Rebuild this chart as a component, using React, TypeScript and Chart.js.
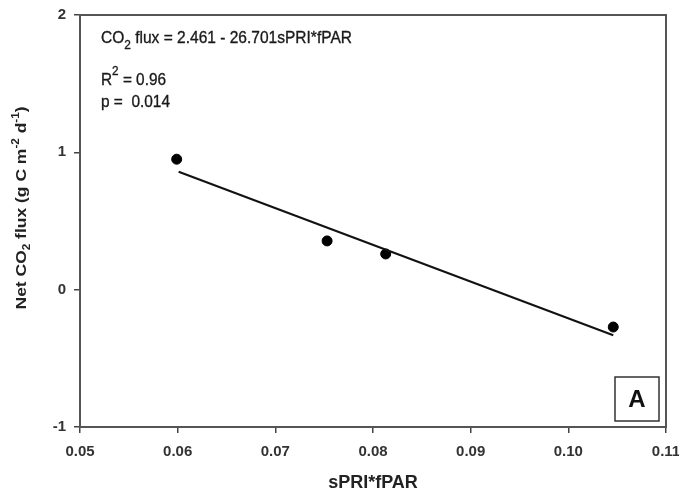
import React, { useEffect, useRef } from 'react';
import { Chart, registerables } from 'chart.js';

Chart.register(...registerables);

// ---- data ----
const sPriFpar = [0.0599, 0.0753, 0.0813, 0.1046];
const netFlux = [0.95, 0.355, 0.26, -0.272];
const fitX = [0.0601, 0.1046];
const fitY = [0.859, -0.332];
const xMin = 0.05, xMax = 0.11, xStep = 0.01;
const yMin = -1, yMax = 2, yStep = 1;
const xTitle = 'sPRI*fPAR';
const panelLabel = 'A';

type Seg = { t: string; size: number; dy: number };

const FAMILY = '"Liberation Sans", Arial, Helvetica, sans-serif';

const eqLine: Seg[] = [
  { t: 'CO', size: 17, dy: 0 },
  { t: '2', size: 13, dy: 6 },
  { t: ' flux = 2.461 - 26.701sPRI*fPAR', size: 17, dy: 0 },
];
const r2Line: Seg[] = [
  { t: 'R', size: 17, dy: 0 },
  { t: '2', size: 13, dy: -10 },
  { t: ' = 0.96', size: 17, dy: 0 },
];
const pLine: Seg[] = [{ t: 'p =  0.014', size: 17, dy: 0 }];
const yTitleSegs: Seg[] = [
  { t: 'Net CO', size: 15, dy: 0 },
  { t: '2', size: 10, dy: 4 },
  { t: ' flux (g C m', size: 15, dy: 0 },
  { t: '-2', size: 10, dy: -7 },
  { t: ' d', size: 15, dy: 0 },
  { t: '-1', size: 10, dy: -7 },
  { t: ')', size: 15, dy: 0 },
];

function drawRich(
  ctx: CanvasRenderingContext2D,
  segs: Seg[],
  x: number,
  y: number,
  weight: string,
  color: string,
  targetWidth?: number,
  center?: boolean
) {
  let total = 0;
  const widths: number[] = [];
  for (const s of segs) {
    ctx.font = `${weight} ${s.size}px ${FAMILY}`;
    const w = ctx.measureText(s.t).width;
    widths.push(w);
    total += w;
  }
  const sx = targetWidth ? targetWidth / total : 1;
  ctx.save();
  ctx.translate(x, y);
  ctx.scale(sx, 1);
  ctx.fillStyle = color;
  ctx.strokeStyle = color;
  ctx.lineWidth = 0.35;
  ctx.textBaseline = 'alphabetic';
  ctx.textAlign = 'left';
  let cx = center ? -total / 2 : 0;
  segs.forEach((s, i) => {
    ctx.font = `${weight} ${s.size}px ${FAMILY}`;
    ctx.fillText(s.t, cx, s.dy);
    if (weight === 'normal') ctx.strokeText(s.t, cx, s.dy);
    cx += widths[i];
  });
  ctx.restore();
}

const decorPlugin = {
  id: 'decor',
  afterDraw(chart: any) {
    const ctx: CanvasRenderingContext2D = chart.ctx;
    const a = chart.chartArea;
    ctx.save();
    // frame
    ctx.strokeStyle = '#555';
    ctx.lineWidth = 2;
    ctx.strokeRect(a.left, a.top, a.right - a.left, a.bottom - a.top);

    // annotation text
    drawRich(ctx, eqLine, a.left + 21, a.top + 28, 'normal', '#1a1a1a', 251);
    drawRich(ctx, r2Line, a.left + 21, a.top + 70, 'normal', '#1a1a1a', 65);
    drawRich(ctx, pLine, a.left + 21, a.top + 92, 'normal', '#1a1a1a', 69);

    // panel label box
    const bw = 44, bh = 44;
    const bx = a.right - 7 - bw;
    const by = a.bottom - 6 - bh;
    ctx.strokeStyle = '#333';
    ctx.lineWidth = 1.5;
    ctx.strokeRect(bx, by, bw, bh);
    ctx.fillStyle = '#111';
    ctx.font = `bold 24px ${FAMILY}`;
    ctx.textAlign = 'center';
    ctx.textBaseline = 'middle';
    ctx.fillText(panelLabel, bx + bw / 2, by + bh / 2 + 1);

    // y axis title (rotated, with sub/superscripts)
    ctx.save();
    ctx.translate(26, 208);
    ctx.rotate(-Math.PI / 2);
    drawRich(ctx, yTitleSegs, 0, 0, 'bold', '#222', 203, true);
    ctx.restore();

    ctx.restore();
  },
};

export default function App() {
  const ref = useRef<HTMLCanvasElement | null>(null);

  useEffect(() => {
    document.body.style.margin = '0';
    if (!ref.current) return;
    const tickFont = { family: FAMILY, size: 15, weight: 'bold' as const };
    const chart = new Chart(ref.current, {
      type: 'scatter',
      data: {
        datasets: [
          {
            type: 'line',
            data: fitX.map((x, i) => ({ x, y: fitY[i] })),
            borderColor: '#111',
            borderWidth: 2,
            pointRadius: 0,
            fill: false,
          } as any,
          {
            type: 'scatter',
            data: sPriFpar.map((x, i) => ({ x, y: netFlux[i] })),
            backgroundColor: '#000',
            borderColor: '#000',
            pointRadius: 5,
          },
        ],
      },
      options: {
        animation: false,
        responsive: true,
        maintainAspectRatio: false,
        layout: { padding: { top: 15, right: 13, left: 0, bottom: 0 } },
        plugins: { legend: { display: false }, tooltip: { enabled: false } },
        scales: {
          x: {
            type: 'linear',
            min: xMin,
            max: xMax,
            ticks: {
              stepSize: xStep,
              callback: (v: any) => Number(v).toFixed(2),
              font: tickFont,
              color: '#333',
              padding: 10,
              maxRotation: 0,
              autoSkip: false,
            },
            grid: {
              drawOnChartArea: false,
              drawTicks: true,
              tickLength: 6,
              color: '#444',
              lineWidth: 1.5,
            },
            border: { color: '#555', width: 2 },
            title: {
              display: true,
              text: xTitle,
              font: { family: FAMILY, size: 18, weight: 'bold' },
              color: '#222',
              padding: { top: 4, bottom: 2 },
            },
            afterFit: (s: any) => {
              s.height = 69;
              s.paddingLeft = 0;
              s.paddingRight = 0;
            },
          },
          y: {
            type: 'linear',
            min: yMin,
            max: yMax,
            ticks: {
              stepSize: yStep,
              font: tickFont,
              color: '#333',
              padding: 8,
            },
            grid: {
              drawOnChartArea: false,
              drawTicks: true,
              tickLength: 6,
              color: '#444',
              lineWidth: 1.5,
            },
            border: { color: '#555', width: 2 },
            afterFit: (s: any) => {
              s.width = 80;
              s.paddingTop = 0;
              s.paddingBottom = 0;
            },
          },
        },
      },
      plugins: [decorPlugin],
    });
    return () => chart.destroy();
  }, []);

  return (
    <div style={{ width: 679, height: 496, position: 'relative' }}>
      <canvas ref={ref} />
    </div>
  );
}
